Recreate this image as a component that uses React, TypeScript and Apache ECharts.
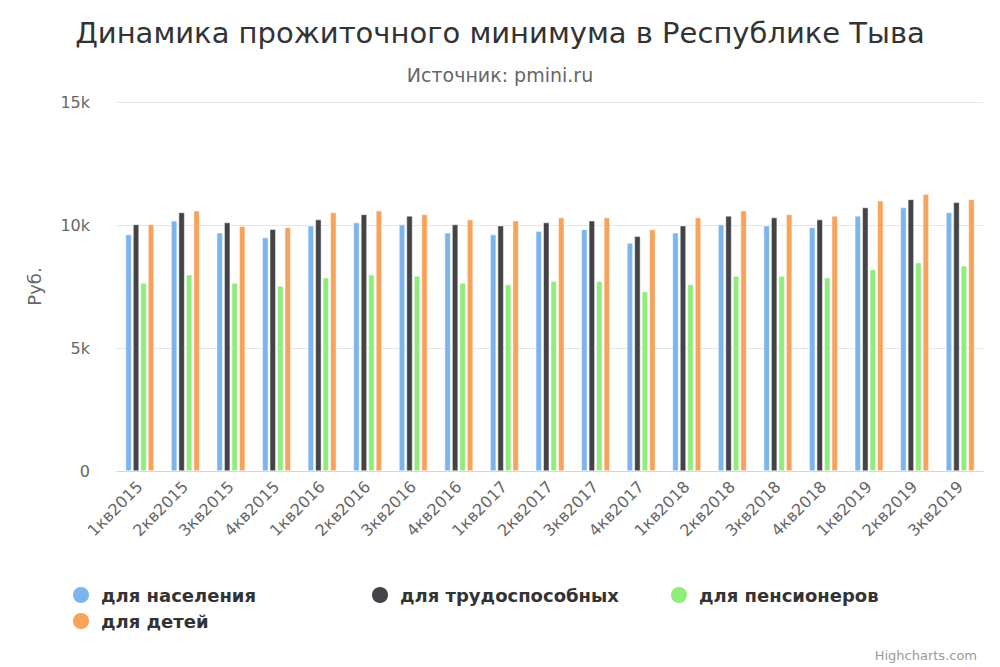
import React, { useEffect, useRef } from "react";
import * as echarts from "echarts";

const categories = [
  "1кв2015", "2кв2015", "3кв2015", "4кв2015",
  "1кв2016", "2кв2016", "3кв2016", "4кв2016",
  "1кв2017", "2кв2017", "3кв2017", "4кв2017",
  "1кв2018", "2кв2018", "3кв2018", "4кв2018",
  "1кв2019", "2кв2019", "3кв2019",
];

const population = [9610, 10170, 9680, 9490, 9970, 10100, 10020, 9680, 9610, 9750, 9820, 9270, 9680, 10020, 9970, 9900, 10370, 10710, 10510];
const workers = [10020, 10510, 10100, 9830, 10220, 10430, 10370, 10020, 9970, 10100, 10170, 9540, 9970, 10370, 10300, 10220, 10710, 11040, 10920];
const pensioners = [7640, 7980, 7640, 7520, 7860, 7980, 7930, 7640, 7580, 7710, 7710, 7300, 7580, 7930, 7930, 7860, 8190, 8470, 8340];
const children = [10020, 10580, 9950, 9900, 10510, 10580, 10430, 10220, 10170, 10300, 10300, 9820, 10300, 10580, 10430, 10370, 10990, 11250, 11040];

const seriesNames = ["для населения", "для трудоспособных", "для пенсионеров", "для детей"];
const seriesColors = ["#7cb5ec", "#434348", "#90ed7d", "#f7a35c"];
const seriesData = [population, workers, pensioners, children];

const FONT = "'DejaVu Sans', Verdana, sans-serif";

export default function App() {
  const ref = useRef<HTMLDivElement>(null);
  useEffect(() => {
    document.body.style.margin = "0";
    const chart = echarts.init(ref.current!, null, { renderer: "svg" });
    chart.setOption({
      animation: false,
      backgroundColor: "#ffffff",
      textStyle: { fontFamily: FONT },
      title: [
        {
          text: "Динамика прожиточного минимума в Республике Тыва",
          left: "center",
          top: 13,
          textStyle: { fontFamily: FONT, fontSize: 29, fontWeight: "normal", color: "#333333" },
        },
        {
          text: "Источник: pmini.ru",
          left: "center",
          top: 60,
          textStyle: { fontFamily: FONT, fontSize: 19, fontWeight: "normal", color: "#666666" },
        },
        {
          text: "Highcharts.com",
          right: 18,
          top: 644,
          textStyle: { fontFamily: FONT, fontSize: 13, fontWeight: "normal", color: "#999999" },
        },
      ],
      legend: {
        left: 71,
        top: 585,
        width: 925,
        padding: 0,
        icon: "circle",
        itemWidth: 18,
        itemHeight: 18,
        itemGap: 6,
        textStyle: {
          fontFamily: FONT,
          fontSize: 18,
          fontWeight: "bold",
          color: "#333333",
          width: 263,
          lineHeight: 16,
          padding: [0, 0, 0, 6],
        },
        data: seriesNames,
      },
      grid: { left: 117, right: 17, top: 102, bottom: 196, containLabel: false },
      xAxis: {
        type: "category",
        data: categories,
        axisLine: { lineStyle: { color: "#ccd6eb" } },
        axisTick: { show: false },
        axisLabel: { rotate: 45, fontSize: 16, color: "#666666", margin: 13, interval: 0, fontFamily: FONT },
      },
      yAxis: {
        type: "value",
        min: 0,
        max: 15000,
        interval: 5000,
        name: "Руб.",
        nameLocation: "middle",
        nameGap: 74,
        nameRotate: 90,
        nameTextStyle: { fontSize: 18, color: "#666666", fontFamily: FONT },
        axisLine: { show: false },
        axisTick: { show: false },
        splitLine: { lineStyle: { color: "#e6e6e6" } },
        axisLabel: {
          fontSize: 16,
          color: "#666666",
          margin: 27,
          fontFamily: FONT,
          formatter: (v: number) => (v === 0 ? "0" : v / 1000 + "k"),
        },
      },
      series: seriesNames.map((name, i) => ({
        name,
        type: "bar",
        data: seriesData[i],
        barWidth: 6,
        barGap: "25%",
        itemStyle: { color: seriesColors[i], borderColor: "#ffffff", borderWidth: 0.5 },
      })),
    });
    return () => chart.dispose();
  }, []);
  return <div ref={ref} style={{ width: 1000, height: 667 }} />;
}
